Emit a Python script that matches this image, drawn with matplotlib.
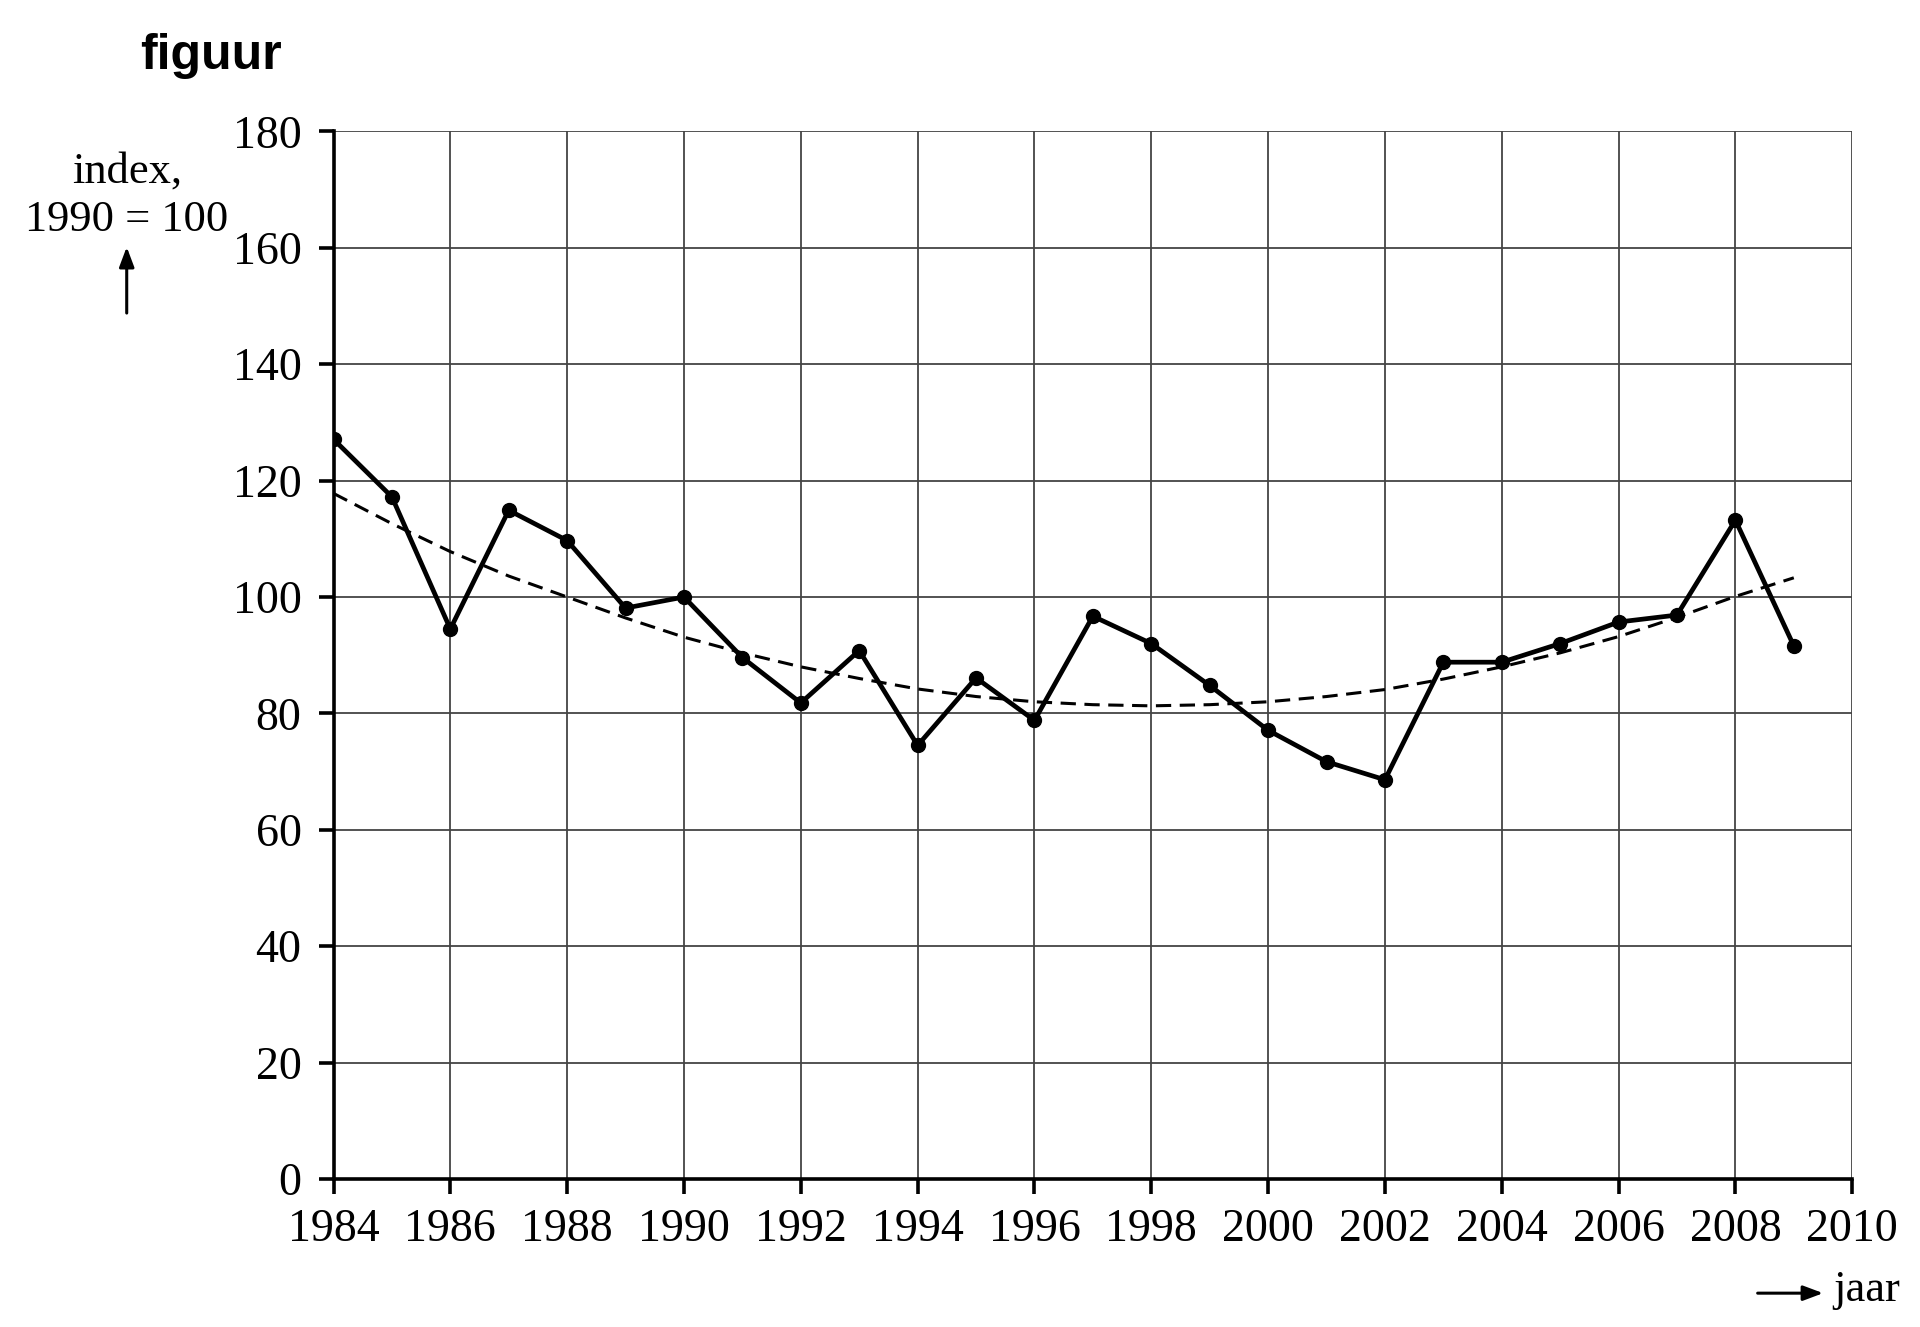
import matplotlib
matplotlib.use("Agg")
import matplotlib.pyplot as plt

years = list(range(1984, 2010))
index_values = [127.1, 117.2, 94.5, 114.9, 109.7, 98.1, 100.0, 89.6, 81.8, 90.8,
                74.5, 86.1, 78.8, 96.7, 92.0, 84.8, 77.1, 71.7, 68.6, 88.8,
                88.8, 92.0, 95.7, 96.9, 113.2, 91.6]
trend_values = [117.8, 112.6, 107.8, 103.6, 100.0, 96.4, 93.1, 90.4, 88.0, 86.0,
                84.2, 82.9, 82.0, 81.5, 81.3, 81.5, 82.0, 82.9, 84.1, 85.9,
                88.0, 90.4, 93.2, 96.5, 100.1, 103.3]
x_ticks = list(range(1984, 2011, 2))
y_ticks = list(range(0, 181, 20))

serif = ["Liberation Serif", "DejaVu Serif"]

fig = plt.figure(figsize=(19.2, 13.27), dpi=100)
ax = fig.add_axes([0.1737, 0.1115, 0.791, 0.7895])

ax.plot(years, trend_values, color="black", lw=2.2, ls=(0, (5, 2.8)), zorder=3)
ax.plot(years, index_values, color="black", lw=3.4, marker="o", ms=10, zorder=4)

ax.set_xlim(1984, 2010)
ax.set_ylim(0, 180)
ax.set_xticks(x_ticks)
ax.set_yticks(y_ticks)
ax.grid(True, color="#444444", lw=1.3)
ax.set_axisbelow(True)
for s in ["top", "right"]:
    ax.spines[s].set_visible(False)
for s in ["left", "bottom"]:
    ax.spines[s].set_linewidth(2.6)
    ax.spines[s].set_zorder(5)
ax.tick_params(axis="both", direction="out", length=11, width=2.6)
ax.tick_params(axis="x", pad=10)
ax.tick_params(axis="y", pad=12)
for lab in ax.get_xticklabels() + ax.get_yticklabels():
    lab.set_fontfamily(serif)
    lab.set_fontsize(33)

# title
fig.text(0.073, 0.958, "figuur", fontsize=36, fontweight="bold",
         family=["Liberation Sans", "DejaVu Sans"], ha="left", va="center")

# y label with arrow
fig.text(0.066, 0.871, "index,", fontsize=32, family=serif, ha="center", va="center")
fig.text(0.066, 0.834, "1990 = 100", fontsize=32, family=serif, ha="center", va="center")
fig.add_artist(matplotlib.patches.FancyArrowPatch((0.066, 0.762), (0.066, 0.816),
               transform=fig.transFigure, arrowstyle="-|>,head_length=12,head_width=4.5",
               color="black", lw=2.2))

# x label with arrow
fig.add_artist(matplotlib.patches.FancyArrowPatch((0.914, 0.0255), (0.951, 0.0255),
               transform=fig.transFigure, arrowstyle="-|>,head_length=12,head_width=4.5",
               color="black", lw=2.2))
fig.text(0.955, 0.028, "jaar", fontsize=32, family=serif, ha="left", va="center")

fig.savefig("out.png", dpi=100, facecolor="white")
